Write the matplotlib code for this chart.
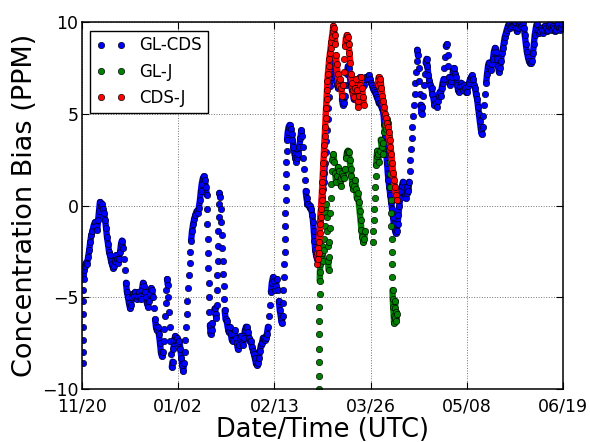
import matplotlib
matplotlib.use("Agg")
import matplotlib.pyplot as plt
import numpy as np

# x: days since 11/20 ; y: concentration bias (PPM)
tick_days = [0, 42.4, 84.8, 127.2, 169.6, 212.0]
tick_labels = ["11/20", "01/02", "02/13", "03/26", "05/08", "06/19"]

gl_cds_day = [
    0.3, 0.35, 0.4, 0.45, 0.5, 0.55, 0.6, 0.7, 0.9, 1.3, 1.8, 2.2, 2.7, 3.2, 3.6, 4.1, 4.6, 5.1, 5.7, 6.2,
    6.7, 7.1, 7.5, 7.9, 8.4, 8.8, 9.3, 9.7, 10.2, 10.6, 11.0, 11.5, 11.9, 12.3, 12.8, 13.2, 13.7, 14.1, 14.6, 15.0,
    15.4, 15.9, 16.3, 16.8, 17.2, 17.6, 18.1, 18.5, 18.9, 19.4, 19.8, 20.3, 20.7, 21.2, 21.6, 22.0, 22.5, 22.9, 23.4, 23.8,
    24.2, 24.7, 25.1, 25.6, 26.0, 26.4, 26.9, 27.3, 27.8, 28.2, 28.6, 29.1, 29.5, 30.0, 30.4, 30.8, 31.3, 31.7, 32.2, 32.6,
    33.0, 33.5, 33.9, 34.4, 34.8, 35.2, 35.7, 36.0, 36.3, 36.6, 36.9, 37.2, 37.5, 37.8, 38.1, 38.4, 38.7, 39.0, 39.3, 39.6,
    39.9, 40.3, 40.7, 41.1, 41.6, 42.0, 42.5, 42.9, 43.4, 43.8, 44.2, 44.6, 45.0, 45.3, 45.6, 45.9, 46.2, 46.5, 46.8, 47.1,
    47.4, 47.7, 48.1, 48.5, 49.0, 49.5, 50.0, 50.5, 51.0, 51.5, 52.0, 52.4, 52.8, 53.3, 53.7, 54.1, 54.6, 55.0, 55.15, 55.3,
    55.45, 55.6, 55.75, 55.9, 56.05, 56.2, 56.4, 56.7, 57.1, 57.5, 58.0, 58.5, 58.9, 59.2, 59.35, 59.5, 59.65, 59.8, 59.95, 60.1,
    60.25, 60.4, 60.6, 60.9, 61.2, 61.4, 61.6, 61.8, 62.0, 62.2, 62.4, 62.6, 62.9, 63.3, 63.8, 64.2, 64.7, 65.1, 65.6, 66.0,
    66.5, 66.9, 67.4, 67.8, 68.3, 68.7, 69.2, 69.6, 70.1, 70.5, 71.0, 71.4, 71.8, 72.3, 72.7, 73.2, 73.6, 74.0, 74.5, 74.9,
    75.4, 75.8, 76.2, 76.7, 77.1, 77.6, 78.0, 78.4, 78.9, 79.3, 79.8, 80.2, 80.6, 81.1, 81.5, 82.0, 82.4, 82.9, 83.3, 83.7,
    84.2, 84.6, 85.1, 85.5, 85.9, 86.4, 86.8, 87.2, 87.7, 88.1, 88.4, 88.6, 88.8, 89.0, 89.2, 89.35, 89.5, 89.6, 89.7, 89.8,
    89.9, 90.0, 90.1, 90.2, 90.4, 90.7, 91.1, 91.5, 92.0, 92.4, 92.8, 93.2, 93.7, 94.1, 94.5, 95.0, 95.4, 95.8, 96.3, 96.7,
    97.0, 97.3, 97.6, 97.9, 98.2, 98.6, 99.0, 99.4, 99.8, 100.3, 100.7, 101.1, 101.5, 101.9, 102.2, 102.5, 102.8, 103.2, 103.6, 104.0,
    104.4, 104.7, 105.0, 105.3, 105.6, 105.9, 106.2, 106.5, 106.8, 107.1, 107.4, 107.7, 108.0, 108.3, 108.6, 108.9, 109.2, 109.6, 110.0, 110.4,
    110.8, 111.2, 111.6, 112.0, 112.5, 112.9, 113.3, 113.8, 114.2, 114.6, 115.0, 115.5, 115.9, 116.4, 116.8, 117.2, 117.7, 118.1, 118.5, 119.0,
    119.4, 119.8, 120.3, 120.7, 121.2, 121.6, 122.0, 122.5, 122.9, 123.4, 123.8, 124.2, 124.7, 125.1, 125.6, 126.0, 126.4, 126.9, 127.3, 127.8,
    128.2, 128.6, 129.1, 129.5, 130.0, 130.4, 130.8, 131.3, 131.7, 132.2, 132.6, 133.0, 133.3, 133.6, 133.9, 134.2, 134.5, 134.8, 135.1, 135.5,
    135.9, 136.3, 136.7, 137.1, 137.5, 137.9, 138.3, 138.7, 139.1, 139.5, 139.9, 140.3, 140.7, 141.1, 141.5, 141.9, 142.3, 142.7, 143.1, 143.5,
    143.9, 144.2, 144.5, 144.8, 145.1, 145.4, 145.7, 146.0, 146.3, 146.6, 146.9, 147.2, 147.5, 147.8, 148.1, 148.4, 148.7, 149.0, 149.3, 149.7,
    150.1, 150.5, 150.8, 151.1, 151.5, 151.9, 152.3, 152.7, 153.2, 153.6, 154.1, 154.5, 155.0, 155.4, 155.9, 156.3, 156.8, 157.2, 157.7, 158.1,
    158.6, 159.0, 159.4, 159.8, 160.1, 160.4, 160.8, 161.2, 161.5, 161.9, 162.3, 162.8, 163.2, 163.6, 164.0, 164.5, 164.9, 165.4, 165.8, 166.2,
    166.7, 167.1, 167.6, 168.0, 168.4, 168.9, 169.3, 169.8, 170.2, 170.6, 171.1, 171.5, 172.0, 172.4, 172.8, 173.3, 173.7, 174.2, 174.6, 175.0,
    175.4, 175.8, 176.2, 176.6, 177.0, 177.4, 177.8, 178.2, 178.6, 179.0, 179.4, 179.9, 180.3, 180.8, 181.2, 181.6, 182.1, 182.5, 182.9, 183.4,
    183.8, 184.3, 184.7, 185.1, 185.6, 186.0, 186.4, 186.9, 187.3, 187.8, 188.2, 188.6, 189.1, 189.5, 190.0, 190.4, 190.8, 191.3, 191.7, 192.2,
    192.6, 193.0, 193.5, 193.9, 194.4, 194.8, 195.2, 195.7, 196.1, 196.6, 197.0, 197.4, 197.9, 198.3, 198.8, 199.2, 199.6, 200.1, 200.5, 201.0,
    201.4, 201.8, 202.3, 202.7, 203.2, 203.6, 204.0, 204.5, 204.9, 205.4, 205.8, 206.2, 206.7, 207.1, 207.6, 208.0, 208.4, 208.9, 209.3, 209.8,
    210.2, 210.6, 211.1, 211.5,
]
gl_cds_ppm = [
    -8.6, -8.0, -7.3, -6.6, -5.9, -5.2, -4.6, -4.0, -3.5, -3.3, -3.1, -3.2, -2.8, -2.4, -2.0, -1.6, -1.4, -1.1, -0.9, -1.1,
    -1.3, -0.8, -0.3, 0.2, 0.0, 0.1, -0.2, -0.4, -0.8, -1.2, -1.7, -2.1, -2.5, -2.7, -3.0, -3.2, -3.4, -3.3, -3.0, -2.7,
    -2.9, -3.1, -2.9, -2.5, -2.1, -1.9, -2.3, -2.9, -3.5, -4.2, -4.7, -5.0, -5.3, -5.6, -5.4, -5.0, -4.8, -4.9, -4.7, -4.9,
    -5.1, -4.9, -4.7, -4.9, -5.1, -4.6, -4.2, -4.4, -4.7, -5.0, -5.3, -5.5, -5.2, -4.8, -4.5, -4.6, -5.0, -5.6, -6.2, -6.6,
    -6.8, -6.6, -7.0, -7.5, -8.0, -8.2, -8.0, -7.4, -6.7, -6.0, -5.3, -4.6, -4.0, -4.3, -5.0, -5.8, -6.6, -7.4, -8.1, -8.8,
    -8.5, -7.8, -7.3, -7.1, -7.3, -7.2, -7.5, -7.4, -7.8, -8.3, -8.7, -9.0, -8.6, -8.0, -7.3, -6.6, -5.9, -5.2, -4.5, -3.8,
    -3.1, -2.5, -1.9, -1.4, -1.0, -0.7, -0.5, -0.3, -0.4, -0.1, 0.3, 0.8, 1.2, 1.5, 1.6, 1.4, 1.0, 0.6, -0.2, -1.0,
    -1.8, -2.6, -3.4, -4.2, -5.0, -5.8, -6.5, -7.0, -6.8, -6.4, -5.8, -5.6, -5.9, -6.1, -5.4, -4.6, -3.8, -3.0, -2.2, -1.4,
    -0.6, 0.1, 0.7, 0.5, -0.2, -0.9, -1.6, -2.3, -3.0, -3.7, -4.4, -5.1, -5.7, -6.2, -6.3, -6.6, -6.9, -6.6, -7.0, -7.3,
    -7.4, -7.0, -6.8, -7.2, -7.5, -7.8, -7.6, -7.2, -7.1, -7.5, -7.6, -7.2, -6.8, -6.6, -6.6, -6.9, -7.2, -7.4, -7.4, -7.7,
    -7.9, -8.1, -8.3, -8.6, -8.7, -8.6, -8.3, -7.9, -7.6, -7.5, -7.2, -7.2, -7.3, -7.2, -7.0, -6.6, -6.0, -5.4, -4.7, -4.2,
    -3.9, -4.1, -4.6, -4.4, -4.0, -4.6, -5.2, -5.7, -6.1, -6.4, -6.0, -5.3, -4.6, -3.9, -3.2, -2.5, -1.8, -1.1, -0.4, 0.3,
    1.0, 1.7, 2.4, 3.0, 3.6, 4.0, 4.3, 4.4, 4.2, 3.9, 3.6, 3.2, 2.8, 2.6, 2.4, 2.6, 2.8, 3.2, 3.7, 4.1,
    3.8, 3.2, 2.6, 2.0, 1.4, 0.8, 0.4, 0.1, 0.1, -0.1, 0.0, -0.2, -0.5, -0.9, -1.4, -1.9, -2.4, -2.7, -2.9, -2.6,
    -2.1, -1.5, -0.9, -0.4, 0.1, 0.5, 0.9, 1.3, 1.8, 2.3, 2.9, 3.5, 4.1, 4.7, 5.3, 5.9, 6.5, 7.0, 7.5, 7.9,
    8.1, 7.6, 7.1, 6.8, 6.6, 6.4, 6.5, 6.7, 6.4, 5.8, 5.5, 5.6, 6.0, 6.6, 7.2, 7.6, 7.5, 7.0, 6.6, 6.3,
    6.1, 5.8, 5.8, 6.0, 6.3, 6.6, 6.8, 7.0, 6.9, 6.6, 6.5, 6.6, 6.9, 7.0, 7.0, 6.9, 7.1, 6.9, 6.7, 6.6,
    6.4, 6.3, 6.2, 6.1, 5.9, 5.8, 5.6, 5.6, 5.5, 5.3, 5.2, 4.9, 4.4, 3.8, 3.3, 2.8, 2.3, 1.8, 1.4, 1.0,
    0.6, 0.2, -0.2, -0.6, -1.0, -1.3, -1.5, -1.4, -1.0, -0.5, 0.0, 0.4, 0.8, 1.1, 1.3, 1.0, 0.6, 0.4, 0.7, 1.0,
    0.8, 1.3, 1.9, 2.5, 3.1, 3.7, 4.3, 4.9, 5.5, 6.1, 6.7, 7.3, 7.9, 8.5, 8.2, 7.5, 6.8, 6.1, 5.5, 5.0,
    5.4, 6.0, 6.6, 7.2, 7.8, 8.0, 7.6, 7.1, 6.8, 6.6, 6.4, 6.1, 5.8, 5.5, 5.6, 5.4, 5.7, 6.0, 6.2, 6.0,
    6.4, 6.7, 6.9, 7.5, 8.1, 8.7, 8.8, 8.2, 7.6, 7.0, 6.6, 6.8, 7.0, 7.4, 7.5, 7.2, 7.0, 6.6, 6.3, 6.2,
    6.5, 6.7, 6.5, 6.3, 6.6, 6.4, 6.2, 6.2, 6.5, 6.7, 6.9, 7.0, 7.1, 6.9, 6.6, 6.4, 6.1, 5.8, 5.4, 5.0,
    4.6, 4.2, 3.9, 4.3, 4.9, 5.5, 6.1, 6.7, 7.2, 7.6, 7.8, 7.5, 7.4, 7.7, 8.0, 8.4, 8.6, 8.4, 8.0, 7.6,
    7.3, 7.5, 7.9, 8.3, 8.6, 8.9, 9.2, 9.4, 9.6, 9.8, 9.9, 9.7, 9.8, 10.0, 9.9, 10.0, 10.0, 9.7, 9.5, 9.7,
    9.9, 10.0, 9.8, 9.9, 10.0, 9.7, 9.3, 8.8, 8.4, 8.1, 7.9, 7.8, 7.8, 7.9, 8.3, 8.8, 9.3, 9.7, 9.9, 9.6,
    9.4, 9.5, 9.7, 9.6, 9.4, 9.6, 9.8, 9.7, 9.5, 9.6, 9.8, 9.9, 9.7, 9.6, 9.8, 9.7, 9.5, 9.6, 9.8, 9.9,
    9.7, 9.6, 9.7, 9.9,
]

gl_j_day = [
    104.40, 104.45, 104.50, 104.55, 104.60, 104.65, 104.70, 104.75, 104.80, 104.9, 105.1, 105.4, 105.7, 106.0, 106.3,
    106.6, 106.9, 107.2, 107.5, 107.7, 107.9, 108.1, 108.3, 108.5, 108.7, 108.9, 109.1, 109.3, 109.5, 109.7,
    109.9, 110.1, 110.4, 110.8, 111.2, 111.6, 112.0, 112.4, 112.8, 113.2, 113.6, 114.0, 114.4, 114.8, 115.2,
    115.6, 116.0, 116.4, 116.8, 117.2, 117.6, 118.0, 118.4, 118.8, 119.2, 119.6, 120.0, 120.4, 120.8, 121.2,
    121.6, 122.0, 122.4, 122.8, 123.2, 123.6, 124.0, 124.4, 124.8,
    128.3, 128.5, 128.7, 128.9, 129.1, 129.3, 129.5, 129.7, 129.9, 130.2, 130.5, 130.9, 131.3, 131.7, 132.1,
    132.5, 132.9, 133.3, 133.7, 134.1, 134.5, 134.9, 135.2, 135.4, 135.6, 135.8, 136.0, 136.2, 136.3, 136.4,
    136.5, 136.6, 136.7, 136.8, 136.9, 137.0, 137.2, 137.4, 137.6, 137.8, 138.0, 138.2, 138.4, 138.6, 138.8,
]
gl_j_ppm = [
    -10.0, -9.3, -8.5, -7.8, -7.0, -6.3, -5.5, -4.8, -4.1, -3.6, -3.2, -2.7, -2.2, -2.6, -3.0,
    -2.4, -1.8, -1.1, -0.4, 0.1, -0.6, -1.4, -2.2, -3.0, -3.5, -2.8, -2.0, -1.2, -0.4, 0.4,
    1.2, 1.9, 2.5, 2.8, 2.4, 1.8, 1.3, 1.6, 2.1, 1.9, 1.4, 1.1, 1.5, 1.8, 1.6,
    1.5, 2.0, 2.6, 2.9, 3.0, 2.9, 2.5, 2.0, 1.6, 1.2, 0.9, 1.1, 1.4, 0.9, 0.4,
    0.7, 0.2, -0.3, -0.8, -1.3, -1.7, -2.0, -1.8, -1.4,
    -2.0, -1.4, -0.8, -0.2, 0.4, 1.0, 1.6, 2.2, 2.7, 3.0, 2.8, 2.4, 3.0, 3.6, 3.2,
    2.8, 3.4, 4.0, 4.4, 4.2, 4.7, 4.5, 3.8, 3.1, 2.4, 1.7, 1.0, 0.3, -0.4, -1.1,
    -1.8, -2.5, -3.2, -3.9, -4.6, -5.1, -5.5, -6.0, -6.4, -6.1, -5.6, -5.2, -5.8, -6.3, -5.9,
]

cds_j_day = [
    103.6, 103.8, 104.0, 104.2, 104.4, 104.6, 104.8, 105.0, 105.2, 105.4, 105.6, 105.8, 106.0, 106.2, 106.4,
    106.6, 106.8, 107.0, 107.2, 107.4, 107.6, 107.8, 108.0, 108.2, 108.4, 108.7, 109.0, 109.3, 109.6, 109.9,
    110.2, 110.5, 110.8, 111.1, 111.4, 111.7, 112.0, 112.3, 112.7, 113.1, 113.5, 113.9, 114.3, 114.7, 115.1,
    115.4, 115.7, 116.0, 116.3, 116.7, 117.1, 117.5, 117.9, 118.3, 118.7, 119.1, 119.5, 119.9, 120.3, 120.7,
    121.1, 121.5, 121.9, 122.3, 122.7, 123.1, 123.5, 123.9, 124.3,
    130.4, 130.8, 131.2, 131.6, 132.0, 132.4, 132.8, 133.2, 133.6, 134.0, 134.4, 134.8, 135.2, 135.6, 136.0,
    136.4, 136.8, 137.2, 137.6, 138.0, 138.4, 138.8,
]
cds_j_ppm = [
    -3.2, -2.6, -2.9, -2.3, -2.6, -2.0, -1.5, -1.0, -0.6, -0.2, 0.3, 0.8, 1.3, 1.8, 2.3,
    2.8, 3.3, 3.8, 4.3, 4.8, 5.3, 5.8, 6.3, 6.8, 7.2, 7.6, 8.0, 8.3, 8.6, 8.9,
    9.2, 9.5, 9.8, 9.7, 9.3, 8.8, 8.2, 7.7, 7.2, 6.8, 6.5, 6.9, 6.4, 6.0, 6.6,
    7.3, 8.0, 8.7, 9.1, 9.3, 9.2, 8.8, 8.3, 7.8, 7.2, 6.7, 6.3, 5.9, 6.4, 6.9,
    6.3, 5.7, 5.4, 6.0, 6.6, 7.0, 6.4, 5.9, 5.5,
    6.6, 7.0, 6.7, 6.9, 6.4, 6.0, 5.7, 5.4, 5.0, 4.8, 4.5, 4.3, 4.0, 3.6, 3.2,
    2.8, 2.3, 1.8, 1.4, 1.0, 0.6, 0.3,
]

series = [
    ("GL-CDS", gl_cds_day, gl_cds_ppm, "#0000ff"),
    ("GL-J", gl_j_day, gl_j_ppm, "#008000"),
    ("CDS-J", cds_j_day, cds_j_ppm, "#ff0000"),
]


def band(xd, yd, max_dy=0.55, max_dx=1.0):
    """Break the dense-trace underlay wherever consecutive samples are far apart."""
    x = np.asarray(xd, float)
    y = np.asarray(yd, float)
    xs, ys = [x[0]], [y[0]]
    for i in range(1, len(x)):
        if abs(y[i] - y[i - 1]) > max_dy or (x[i] - x[i - 1]) > max_dx:
            xs.append(np.nan)
            ys.append(np.nan)
        xs.append(x[i])
        ys.append(y[i])
    return xs, ys


fig = plt.figure(figsize=(5.9, 4.42), dpi=100)
ax = fig.add_axes([0.139, 0.1195, 0.815, 0.8303])

for k, (name, xd, yd, col) in enumerate(series):
    bx, by = band(xd, yd)
    ax.plot(bx, by, "-", color=col, lw=4.6, solid_capstyle="round",
            solid_joinstyle="round", zorder=2 + 2 * k, label="_nolegend_")
    ax.plot(xd, yd, "o", ls="none", color=col, ms=4.6, mec="k", mew=0.45,
            zorder=3 + 2 * k, label=name)

ax.set_xlim(0, 212)
ax.set_ylim(-10, 10)
ax.set_xticks(tick_days)
ax.set_xticklabels(tick_labels)
ax.set_yticks([-10, -5, 0, 5, 10])
ax.tick_params(direction="in", top=True, right=True, length=5, width=0.8,
               labelsize=12.5)
ax.tick_params(axis="x", pad=6.3)
ax.tick_params(axis="y", pad=2.5)
ax.grid(True, ls=":", color="0.45", lw=0.7)
for s in ax.spines.values():
    s.set_linewidth(1.1)
    s.set_zorder(10)

ax.set_xlabel("Date/Time (UTC)", fontsize=18.5, labelpad=0.5)
ax.set_ylabel("Concentration Bias (PPM)", fontsize=19.5, labelpad=3)

leg = ax.legend(loc="upper left", numpoints=2, fontsize=12, fancybox=False,
                framealpha=1, edgecolor="k", borderaxespad=0.5,
                handlelength=1.8, handletextpad=0.8, labelspacing=0.5,
                borderpad=0.35)
leg.get_frame().set_linewidth(1.0)
leg.set_zorder(20)

fig.savefig("out.png", dpi=100)
